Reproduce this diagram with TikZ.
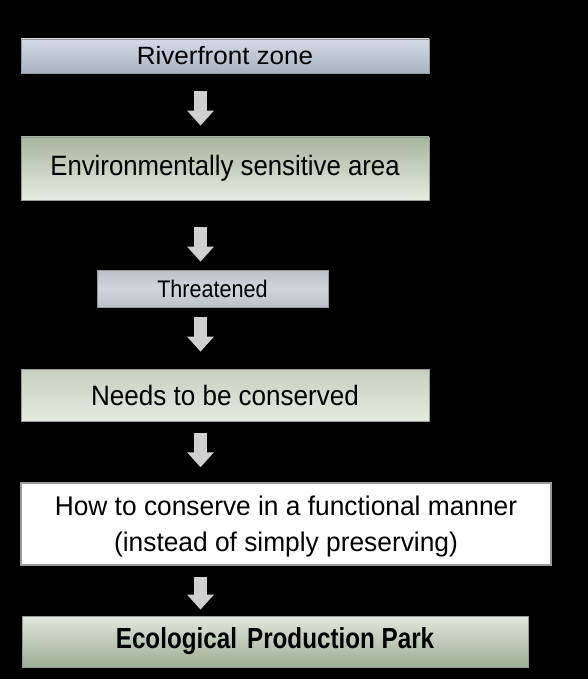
\documentclass[tikz,border=0pt]{standalone}
\usepackage{fontspec}
\setmainfont{Liberation Sans}
\newfontfamily\fra{Liberation Sans}[FakeStretch=1.04]
\newfontfamily\frb{Liberation Sans}[FakeStretch=0.92]
\newfontfamily\frc{Liberation Sans}[FakeStretch=0.9]
\newfontfamily\frd{Liberation Sans}[FakeStretch=0.93]
\newfontfamily\fre{Liberation Sans}[FakeStretch=0.975]
\newfontfamily\frf{Liberation Sans}[FakeStretch=0.835]
\usetikzlibrary{arrows.meta}
\definecolor{bluetop}{HTML}{D3DAE2}
\definecolor{bluebot}{HTML}{A8B4C3}
\definecolor{grtop}{HTML}{A6B59D}
\definecolor{grbot}{HTML}{E8ECE2}
\definecolor{greytop}{HTML}{BCC0C8}
\definecolor{greymid}{HTML}{D2D5DA}
\definecolor{lgtop}{HTML}{C8D0C1}
\definecolor{lgbot}{HTML}{E4E9DE}
\definecolor{eptop}{HTML}{E2E7DD}
\definecolor{epbot}{HTML}{9DAE93}
\definecolor{boxedge}{HTML}{9A9A9A}
\definecolor{arrowgray}{HTML}{D0D0D0}
\tikzset{
  box/.style={draw=boxedge, line width=0.8pt, inner sep=0pt, align=center, text=black},
  bigarrow/.style={draw=arrowgray, line width=13pt, -{Triangle[width=26pt,length=15pt]}},
}
\begin{document}
\begin{tikzpicture}[x=1pt,y=-1pt]
\fill[black] (0,0) rectangle (588,679);
\useasboundingbox (0,0) rectangle (588,679);
\node[box, minimum width=408pt, minimum height=34pt, top color=bluetop, bottom color=bluebot, font=\fra\fontsize{25}{29}\selectfont] (r) at (225,56) {Riverfront zone};
\node[box, minimum width=408pt, minimum height=63pt, top color=grtop, bottom color=grbot, font=\frb\fontsize{28}{32}\selectfont] (e) at (225,168.5) {Environmentally sensitive area};
\node[box, minimum width=231pt, minimum height=37pt, top color=greytop, bottom color=greytop, middle color=greymid, font=\frc\fontsize{24}{28}\selectfont] (t) at (212.5,288.5) {Threatened};
\node[box, minimum width=408pt, minimum height=52pt, top color=lgtop, bottom color=lgbot, font=\frd\fontsize{28}{32}\selectfont] (n) at (225,395) {Needs to be conserved};
\node[box, fill=white, line width=1.5pt, minimum width=530pt, minimum height=82pt, font=\fre\fontsize{27}{36}\selectfont, text depth=0pt] (h) at (286,524) {How to conserve in a functional manner\\(instead of simply preserving)};
\node[box, minimum width=506pt, minimum height=51pt, top color=eptop, bottom color=epbot, font=\frf\bfseries\fontsize{29}{33}\selectfont] (p) at (275,641.5) {Ecological\hspace{0.35em}Production Park};
\coordinate (ax) at (200.5,0);
\draw[bigarrow, shorten <=18pt, shorten >=11pt] (r.south -| ax) -- (e.north -| ax);
\draw[bigarrow, shorten <=27pt, shorten >=8pt] (e.south -| ax) -- (t.north -| ax);
\draw[bigarrow, shorten <=10pt, shorten >=17pt] (t.south -| ax) -- (n.north -| ax);
\draw[bigarrow, shorten <=12pt, shorten >=15pt] (n.south -| ax) -- (h.north -| ax);
\draw[bigarrow, shorten <=11pt, shorten >=6pt] (h.south -| ax) -- (p.north -| ax);
\end{tikzpicture}
\end{document}
